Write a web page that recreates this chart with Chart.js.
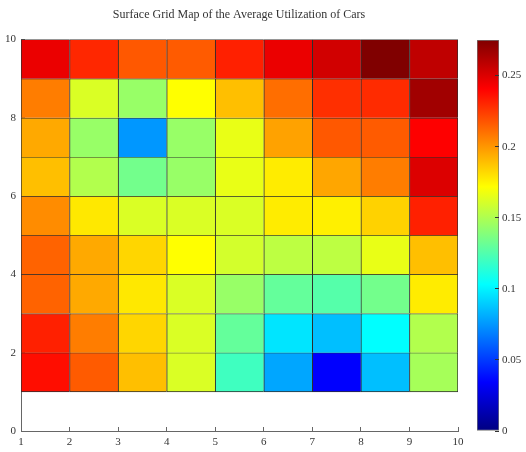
<!DOCTYPE html>
<html>
<head>
<meta charset="utf-8">
<script src="https://cdn.jsdelivr.net/npm/chart.js@4"></script>
<style>
  body { margin: 0; background: #fff; }
  #wrap { position: relative; width: 526px; height: 452px; }
  #grid { position: absolute; left: 0; top: 0; }
  #scale { position: absolute; left: 466px; top: 0; }
</style>
</head>
<body>
<div id="wrap">
  <canvas id="grid" width="478" height="452"></canvas>
  <canvas id="scale" width="60" height="452"></canvas>
</div>
<script>
// cell values, one array per row, bottom row first (row y from 1 to 2 ... 9 to 10)
const rowY1 = [0.237, 0.216, 0.189, 0.162, 0.120, 0.079, 0.034, 0.086, 0.148];
const rowY2 = [0.232, 0.207, 0.183, 0.162, 0.130, 0.096, 0.086, 0.103, 0.151];
const rowY3 = [0.214, 0.195, 0.178, 0.162, 0.144, 0.130, 0.126, 0.134, 0.177];
const rowY4 = [0.214, 0.195, 0.183, 0.172, 0.160, 0.154, 0.154, 0.166, 0.189];
const rowY5 = [0.203, 0.178, 0.162, 0.162, 0.162, 0.177, 0.176, 0.184, 0.232];
const rowY6 = [0.189, 0.151, 0.134, 0.144, 0.166, 0.177, 0.196, 0.207, 0.250];
const rowY7 = [0.195, 0.144, 0.075, 0.144, 0.166, 0.197, 0.217, 0.216, 0.241];
const rowY8 = [0.207, 0.162, 0.144, 0.172, 0.189, 0.211, 0.228, 0.229, 0.266];
const rowY9 = [0.246, 0.230, 0.217, 0.216, 0.232, 0.246, 0.253, 0.275, 0.258];
const rows = [rowY1, rowY2, rowY3, rowY4, rowY5, rowY6, rowY7, rowY8, rowY9];

const colLeftEdges = [1, 2, 3, 4, 5, 6, 7, 8, 9];
const rowBottomEdges = [1, 2, 3, 4, 5, 6, 7, 8, 9];
const colorMin = 0;
const colorMax = 0.275;
const colorTickStep = 0.05;

const serif = '"Liberation Serif", "DejaVu Serif", serif';

// jet colormap
function jet(t) {
  t = Math.max(0, Math.min(1, t));
  const c = v => Math.round(255 * Math.max(0, Math.min(1, v)));
  const r = c(Math.min(4 * t - 1.5, -4 * t + 4.5));
  const g = c(Math.min(4 * t - 0.5, -4 * t + 3.5));
  const b = c(Math.min(4 * t + 0.5, -4 * t + 2.5));
  return `rgb(${r},${g},${b})`;
}
const jetStops = [[0, '#000080'], [0.125, '#0000ff'], [0.375, '#00ffff'], [0.625, '#ffff00'], [0.875, '#ff0000'], [1, '#800000']];

const cells = [];
rows.forEach((vals, r) => {
  vals.forEach((v, c) => {
    cells.push({ x: colLeftEdges[c] + 0.5, y: [rowBottomEdges[r], rowBottomEdges[r] + 1], v: v, c: c, r: r });
  });
});

new Chart(document.getElementById('grid'), {
  type: 'bar',
  data: {
    datasets: [{
      data: cells,
      backgroundColor: ctx => ctx.raw ? jet((ctx.raw.v - colorMin) / (colorMax - colorMin)) : '#000',
      borderColor: '#2e2e2e',
      borderWidth: ctx => ctx.raw ? {
        left: 1, top: 1,
        right: ctx.raw.c === colLeftEdges.length - 1 ? 1 : 0,
        bottom: ctx.raw.r === 0 ? 1 : 0
      } : 0,
      borderSkipped: false,
      grouped: false,
      barPercentage: 1,
      categoryPercentage: 1
    }]
  },
  options: {
    responsive: false,
    animation: false,
    layout: { padding: { left: 20, right: 20, top: 0, bottom: 0 } },
    plugins: {
      legend: { display: false },
      tooltip: { enabled: false },
      title: {
        display: true,
        text: 'Surface Grid Map of the Average Utilization of Cars',
        color: '#333',
        font: { family: serif, size: 12, weight: 'normal' },
        padding: { top: 8, bottom: 17 }
      }
    },
    scales: {
      x: {
        type: 'linear',
        min: 1, max: 10,
        offset: false,
        ticks: { stepSize: 1, color: '#333', font: { family: serif, size: 11 }, padding: 9, maxRotation: 0 },
        grid: { offset: false, drawOnChartArea: false, tickLength: -4, color: '#666' },
        border: { display: true, color: '#666' },
        afterFit: s => { s.height = 21; }
      },
      y: {
        min: 0, max: 10,
        // mirrored labels pulled back to the left of the axis so they are not clipped
        ticks: { stepSize: 2, color: '#333', font: { family: serif, size: 11 }, mirror: true, crossAlign: 'far', padding: -16 },
        grid: { drawOnChartArea: false, tickLength: -4, color: '#666' },
        border: { display: true, color: '#666' },
        afterFit: s => { s.width = 1; }
      }
    }
  }
});

new Chart(document.getElementById('scale'), {
  type: 'bar',
  data: {
    labels: [''],
    datasets: [{
      data: [[colorMin, colorMax]],
      backgroundColor: ctx => {
        const a = ctx.chart.chartArea;
        if (!a) return '#888';
        const g = ctx.chart.ctx.createLinearGradient(0, a.bottom, 0, a.top);
        jetStops.forEach(s => g.addColorStop(s[0], s[1]));
        return g;
      },
      borderColor: '#777',
      borderWidth: 1,
      borderSkipped: false,
      barPercentage: 1,
      categoryPercentage: 1
    }]
  },
  options: {
    responsive: false,
    animation: false,
    layout: { padding: { left: 11, right: 0, top: 40, bottom: 21 } },
    plugins: { legend: { display: false }, tooltip: { enabled: false } },
    scales: {
      x: { display: false },
      y: {
        position: 'right',
        min: colorMin, max: colorMax,
        ticks: {
          stepSize: colorTickStep, includeBounds: false, color: '#333',
          font: { family: serif, size: 11 }, padding: 7,
          callback: v => String(+v.toFixed(2))
        },
        grid: { drawOnChartArea: false, tickLength: -4, color: '#333', z: 1 },
        border: { display: false },
        afterFit: s => { s.width = 27; }
      }
    }
  }
});
</script>
</body>
</html>
